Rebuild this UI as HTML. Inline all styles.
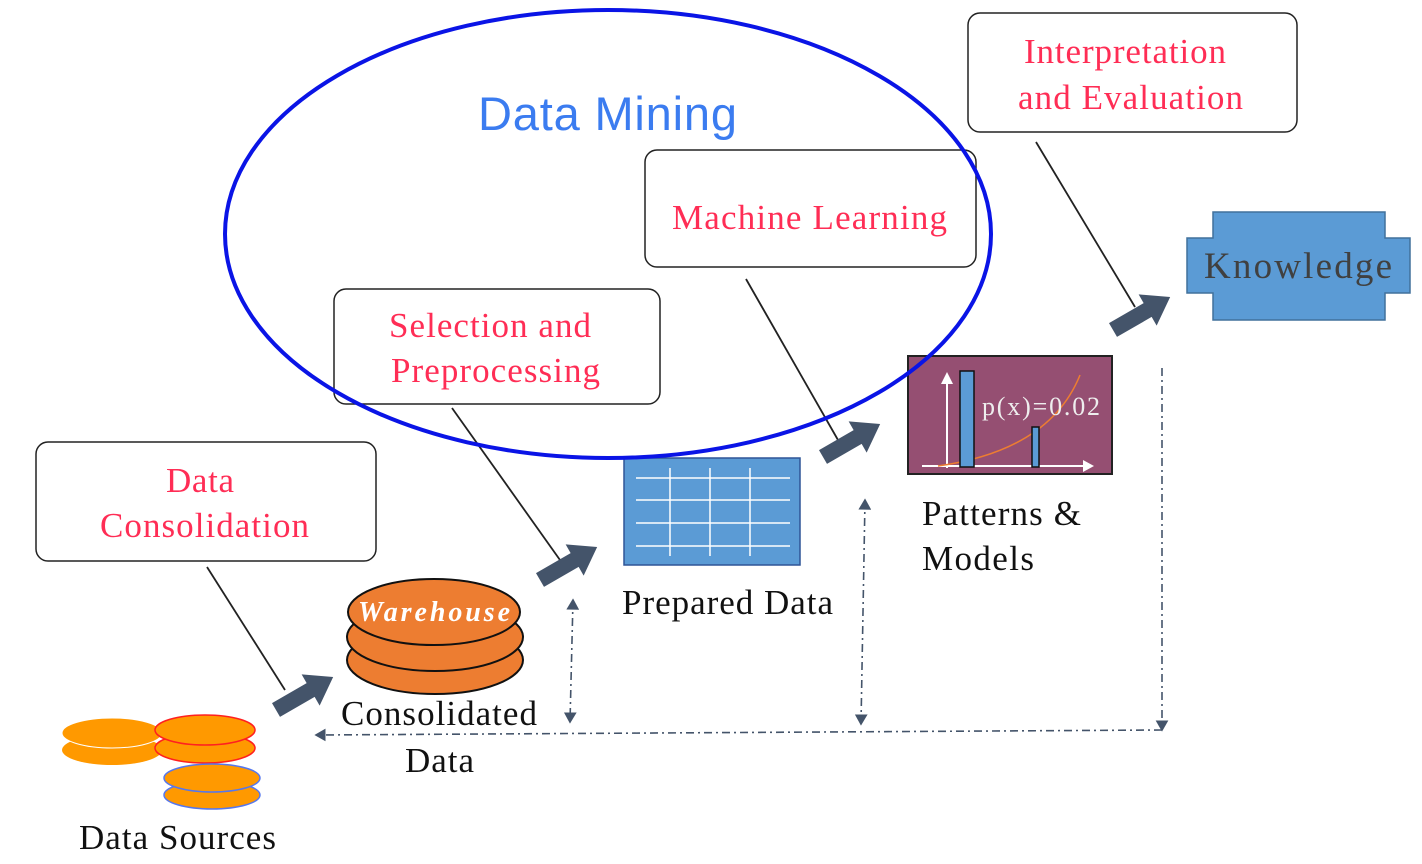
<!DOCTYPE html>
<html><head><style>body{margin:0;background:#fff}svg{display:block}</style></head><body>
<svg width="1422" height="864" viewBox="0 0 1422 864" xmlns="http://www.w3.org/2000/svg" font-family="Liberation Serif, serif">
<defs>
<g id="barr"><polygon points="0,-8 40,-8 40,-18 66,0 40,18 40,8 0,8" fill="#44546a"/></g>
<marker id="ah" markerWidth="8" markerHeight="8" refX="6" refY="4" orient="auto"><path d="M0,0 L7,4 L0,8 z" fill="#44546a"/></marker>
<marker id="ahs" markerWidth="8" markerHeight="8" refX="1" refY="4" orient="auto"><path d="M7,0 L0,4 L7,8 z" fill="#44546a"/></marker>
</defs>
<g stroke="#44546a" stroke-width="1.6" stroke-dasharray="8,4,2,4" fill="none">
<line x1="1162" y1="730" x2="316" y2="735" marker-end="url(#ah)"/>
<line x1="1162" y1="368" x2="1162" y2="730" marker-end="url(#ah)"/>
<line x1="573" y1="600" x2="570" y2="722" marker-start="url(#ahs)" marker-end="url(#ah)"/>
<line x1="865" y1="500" x2="861" y2="724" marker-start="url(#ahs)" marker-end="url(#ah)"/>
</g>
<rect x="624" y="458" width="176" height="107" fill="#5b9bd5" stroke="#2f5597" stroke-width="1.5"/>
<g stroke="#fff" stroke-width="1.5">
<line x1="636" y1="478" x2="790" y2="478"/><line x1="636" y1="500" x2="790" y2="500"/><line x1="636" y1="523" x2="790" y2="523"/><line x1="636" y1="546" x2="790" y2="546"/>
<line x1="670" y1="468" x2="670" y2="556"/><line x1="710" y1="468" x2="710" y2="556"/><line x1="750" y1="468" x2="750" y2="556"/>
</g>
<rect x="908" y="356" width="204" height="118" fill="#954f72" stroke="#222" stroke-width="2"/>
<line x1="947" y1="468" x2="947" y2="382" stroke="#fff" stroke-width="2"/><polygon points="941,384 947,372 953,384" fill="#fff"/>
<line x1="922" y1="466" x2="1085" y2="466" stroke="#fff" stroke-width="2"/><polygon points="1083,460 1094,466 1083,472" fill="#fff"/>
<path d="M938,466 Q1050,450 1080,375" stroke="#ed7d31" stroke-width="1.5" fill="none"/>
<rect x="960" y="371" width="14" height="96" fill="#5b9bd5" stroke="#111" stroke-width="1.5"/>
<rect x="1032" y="427" width="7" height="40" fill="#5b9bd5" stroke="#111" stroke-width="1.5"/>
<text x="982" y="415" font-size="26" fill="#eee" textLength="118">p(x)=0.02</text>
<polygon points="1213,212 1385,212 1385,238 1410,238 1410,293 1385,293 1385,320 1213,320 1213,293 1187,293 1187,238 1213,238" fill="#5b9bd5" stroke="#41719c" stroke-width="1.5"/>
<text x="1204" y="278" font-size="37" fill="#404040" textLength="188">Knowledge</text>
<g stroke="#111" stroke-width="2" fill="#ed7d31">
<ellipse cx="435" cy="660" rx="88" ry="34"/>
<ellipse cx="435" cy="637" rx="88" ry="34"/>
<ellipse cx="434" cy="612" rx="86" ry="33"/>
</g>
<text x="358" y="621" font-size="28" fill="#fff" font-style="italic" font-weight="bold" textLength="152">Warehouse</text>
<g fill="#ff9900">
<ellipse cx="112" cy="750" rx="50" ry="15"/><ellipse cx="112" cy="733" rx="50" ry="15" stroke="#fff" stroke-width="1"/>
<ellipse cx="205" cy="748" rx="50" ry="15" stroke="#ff2020" stroke-width="1.5"/><ellipse cx="205" cy="730" rx="50" ry="15" stroke="#ff2020" stroke-width="1.5"/>
<ellipse cx="212" cy="795" rx="48" ry="14" stroke="#5577ee" stroke-width="1.5"/><ellipse cx="212" cy="778" rx="48" ry="14" stroke="#5577ee" stroke-width="1.5"/>
</g>
<g stroke="#222" stroke-width="1.8">
<line x1="207" y1="567" x2="285" y2="690"/><line x1="452" y1="408" x2="560" y2="560"/><line x1="746" y1="279" x2="838" y2="440"/><line x1="1036" y1="142" x2="1135" y2="307"/>
</g>
<use href="#barr" transform="translate(276,710) rotate(-30)"/>
<use href="#barr" transform="translate(540,580) rotate(-30)"/>
<use href="#barr" transform="translate(823,457) rotate(-30)"/>
<use href="#barr" transform="translate(1113,330) rotate(-30)"/>
<g fill="#fff" stroke="#222" stroke-width="1.5">
<rect x="36" y="442" width="340" height="119" rx="12"/>
<rect x="334" y="289" width="326" height="115" rx="12"/>
<rect x="645" y="150" width="331" height="117" rx="12"/>
<rect x="968" y="13" width="329" height="119" rx="12"/>
</g>
<g font-size="35" fill="#ff2d55">
<text x="166" y="492" textLength="68">Data</text><text x="100" y="537" textLength="209">Consolidation</text>
<text x="389" y="337" textLength="202">Selection and</text><text x="391" y="382" textLength="209">Preprocessing</text>
<text x="672" y="229" textLength="275">Machine Learning</text>
<text x="1024" y="63" textLength="202">Interpretation</text><text x="1018" y="109" textLength="225">and Evaluation</text>
</g>
<ellipse cx="608" cy="234" rx="383" ry="224" fill="none" stroke="#0a14e6" stroke-width="4"/>
<text x="478" y="130" font-size="47" fill="#3b7cf0" textLength="259" font-family="Liberation Sans, sans-serif">Data Mining</text>
<g font-size="35" fill="#111">
<text x="622" y="614" textLength="211">Prepared Data</text>
<text x="922" y="525" textLength="159">Patterns &amp;</text><text x="922" y="570" textLength="112">Models</text>
<text x="341" y="725" textLength="196">Consolidated</text><text x="405" y="772" textLength="69">Data</text>
<text x="79" y="849" textLength="197">Data Sources</text>
</g>
</svg>
</body></html>
